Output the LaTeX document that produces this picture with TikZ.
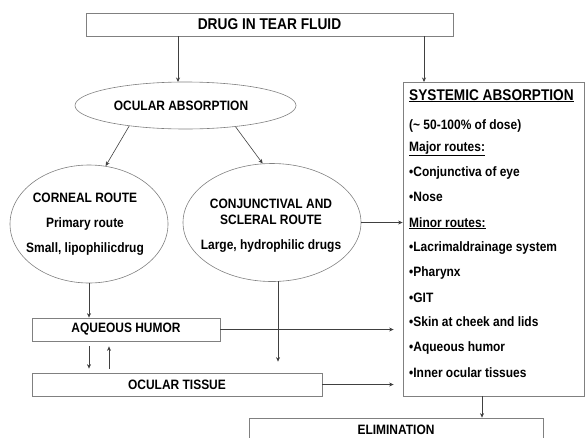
\documentclass[tikz,border=0pt]{standalone}
\usepackage{fontspec}
\setmainfont{Liberation Sans}[FakeStretch=0.88]
\usetikzlibrary{arrows.meta,shapes.geometric}

\begin{document}
\begin{tikzpicture}[x=1pt, y=-1pt,
  every node/.style={font=\bfseries\fontsize{13.6}{15}\selectfont, inner sep=0pt},
  box/.style={draw=gray, line width=0.8pt, rectangle, minimum height=23pt},
  oval/.style={draw=gray, line width=0.6pt, ellipse},
  arr/.style={draw=black!75, line width=0.6pt, -{Stealth[length=4.5pt,width=4pt]}}]
  \useasboundingbox (0,0) rectangle (585,437);

  % boxes and ovals
  \node[box, minimum width=367pt, font=\bfseries\fontsize{15.6}{17}\selectfont] (drug) at (269.5,24.5) {DRUG IN TEAR FLUID};
  \node[oval, minimum width=221pt, minimum height=47pt] (abs) at (185.5,105.5) {};
  \node (abst) at (181,105.5) {OCULAR ABSORPTION};
  \node[oval, minimum width=158pt, minimum height=118pt] (corn) at (89,224) {};
  \node[align=center, font=\bfseries\fontsize{13.6}{25}\selectfont] (cornt) at (85,224.5) {CORNEAL ROUTE\\Primary route\\Small, lipophilicdrug};
  \node[oval, minimum width=178pt, minimum height=118pt] (conj) at (272,222.5) {};
  \node[align=center, font=\bfseries\fontsize{13.6}{16}\selectfont] (conjt) at (271,226) {CONJUNCTIVAL AND\\SCLERAL ROUTE\\[9pt]Large, hydrophilic drugs};
  \node[box, minimum width=188pt] (aq) at (126,329.5) {AQUEOUS HUMOR};
  \node[box, minimum width=290pt] (ot) at (177,384.5) {OCULAR TISSUE};
  \node[box, minimum width=181pt, minimum height=314pt] (sys) at (493.5,239) {};
  \node[box, minimum width=294pt] (elim) at (396,429.5) {ELIMINATION};

  % systemic absorption list
  \foreach \y/\txt [count=\i] in {
      100/{\fontsize{15.5}{17}\selectfont\underline{SYSTEMIC ABSORPTION}},
      129/{(\textasciitilde{} 50-100\%\ of dose)},
      151/{\underline{Major routes:}},
      176/{•Conjunctiva of eye},
      201/{•Nose},
      227/{\underline{Minor routes:}},
      251/{•Lacrimaldrainage system},
      276/{•Pharynx},
      302/{•GIT},
      326/{•Skin at cheek and lids},
      351/{•Aqueous humor},
      377/{•Inner ocular tissues}} {
    \node[anchor=base west] (s\i) at (409,\y) {\txt};
  }

  % connectors
  \coordinate (absin) at (178,82);
  \coordinate (sysin) at (424,82);
  \coordinate (cjout) at (278,281);
  \draw[arr] (drug.south -| absin) -- (absin);
  \draw[arr] (drug.south -| sysin) -- (sysin);
  \draw[arr] (abs.200) -- (corn.74);
  \draw[arr] (abs.337) -- (conj.99);
  \draw[arr] (conj.east) -- (sys.west |- conj.east);
  \draw[arr] (corn.south) -- (corn.south |- aq.north);
  \draw[arr, shorten <=5pt, shorten >=4pt] ([xshift=-37pt]aq.south) -- ([xshift=-37pt]aq.south |- ot.north);
  \draw[arr, shorten <=4pt, shorten >=5pt] ([xshift=-17pt]aq.south |- ot.north) -- ([xshift=-17pt]aq.south);
  \draw[arr, shorten >=9pt] (aq.east) -- (aq.east -| sys.west);
  \draw[arr, shorten >=9pt] (ot.east) -- (ot.east -| sys.west);
  \draw[arr, shorten >=11pt] (cjout) -- (cjout |- ot.north);
  \draw[arr] ([xshift=-11.5pt]sys.south) -- ([xshift=-11.5pt]sys.south |- elim.north);
\end{tikzpicture}
\end{document}
